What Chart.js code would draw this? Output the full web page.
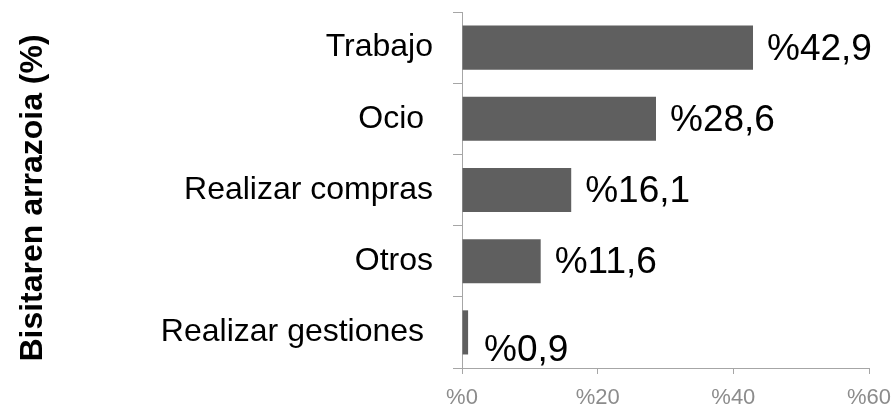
<!DOCTYPE html>
<html>
<head>
<meta charset="utf-8">
<script src="https://cdn.jsdelivr.net/npm/chart.js@4"></script>
<style>
  html, body { margin: 0; padding: 0; background: #fff; }
  #wrap { width: 895px; height: 409px; }
</style>
</head>
<body>
<div id="wrap"><canvas id="chart"></canvas></div>
<script>
/* Bisitaren arrazoia — horizontal bars with value labels */

var reasons = ['Trabajo', 'Ocio ', 'Realizar compras', 'Otros', 'Realizar gestiones '];
var shares = [42.9, 28.6, 16.1, 11.6, 0.9];
var xTicks = [0, 20, 40, 60];
var yTitle = 'Bisitaren arrazoia (%)';

var FONT = "Arial, 'Liberation Sans', sans-serif";
var AXIS = '#a6a6a6';

/* value labels to the right of each bar ("%42,9") */
var valueLabels = {
  id: 'valueLabels',
  afterDatasetsDraw: function (chart, args, opts) {
    var ctx = chart.ctx;
    var meta = chart.getDatasetMeta(0);
    ctx.save();
    ctx.font = '37px ' + FONT;
    ctx.fillStyle = '#000';
    ctx.textAlign = 'left';
    ctx.textBaseline = 'middle';
    meta.data.forEach(function (bar, i) {
      var v = shares[i];
      var txt = '%' + v.toFixed(1).replace('.', ',');
      var dy = (opts.shiftY && opts.shiftY[i]) || 0;
      var dx = (opts.shiftX && opts.shiftX[i]) || 0;
      ctx.fillText(txt, bar.x + 14 + dx, bar.y + 2 + dy);
    });
    ctx.restore();
  }
};

/* rotated axis title, a bit lower than the plot centre like the original */
var sideTitle = {
  id: 'sideTitle',
  afterDraw: function (chart, args, opts) {
    var ctx = chart.ctx;
    ctx.save();
    ctx.translate(opts.x, opts.y);
    ctx.rotate(-Math.PI / 2);
    ctx.font = 'bold 32px ' + FONT;
    ctx.fillStyle = '#000';
    ctx.textAlign = 'center';
    ctx.textBaseline = 'middle';
    ctx.fillText(yTitle, 0, 0);
    ctx.restore();
  }
};

// drop the label overflow padding so the plot box sits where the layout padding puts it
function noEdgePadding(axis) {
  axis.paddingTop = 0;
  axis.paddingBottom = 0;
  axis.paddingLeft = 0;
  axis.paddingRight = 0;
}

new Chart(document.getElementById('chart'), {
  type: 'bar',
  data: {
    labels: reasons,
    datasets: [{
      data: shares,
      backgroundColor: '#5f5f5f',
      borderWidth: 0,
      barPercentage: 0.62,
      categoryPercentage: 1
    }]
  },
  plugins: [valueLabels, sideTitle],
  options: {
    indexAxis: 'y',
    responsive: true,
    maintainAspectRatio: false,
    animation: false,
    layout: { padding: { top: 12, right: 26, bottom: 0, left: 0 } },
    plugins: {
      legend: { display: false },
      tooltip: { enabled: false },
      valueLabels: { shiftY: [0, 0, 0, 0, 16], shiftX: [0, 0, 0, 0, 2] },
      sideTitle: { x: 33, y: 198 }
    },
    scales: {
      x: {
        min: 0,
        max: 60,
        afterBuildTicks: function (axis) {
          axis.ticks = xTicks.map(function (v) { return { value: v }; });
        },
        afterFit: function (axis) { axis.height = 41; noEdgePadding(axis); },
        border: { color: AXIS, width: 1 },
        grid: { drawOnChartArea: false, color: AXIS, tickLength: 6 },
        ticks: {
          color: '#8c8c8c',
          font: { family: FONT, size: 22 },
          padding: 11,
          callback: function (v) { return '%' + v; }
        }
      },
      y: {
        afterFit: function (axis) { axis.width = 462; noEdgePadding(axis); },
        border: { color: AXIS, width: 1 },
        grid: { drawOnChartArea: false, color: AXIS, tickLength: 9, offset: true },
        ticks: {
          color: '#000',
          font: { family: FONT, size: 32 },
          padding: 20
        }
      }
    }
  }
});
</script>
</body>
</html>
